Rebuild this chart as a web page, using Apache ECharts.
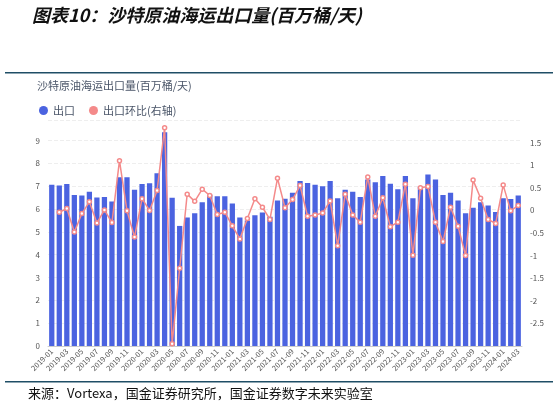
<!DOCTYPE html>
<html><head><meta charset="utf-8">
<script src="https://cdn.jsdelivr.net/npm/echarts@6/dist/echarts.min.js"></script>
<style>html,body{margin:0;padding:0;background:#fff}#c{width:560px;height:408px}</style>
</head><body><div id="c"></div>
<script>
const months = [];
for (let y = 2019; y <= 2024; y++) for (let m = 1; m <= 12; m++) { if (y === 2024 && m > 3) break; months.push(y + '-' + String(m).padStart(2, '0')); }
const exportVals = [7.06,7.03,7.1,6.62,6.59,6.76,6.5,6.53,6.33,7.39,7.39,6.84,
 7.1,7.13,7.57,9.36,6.49,5.26,5.63,5.82,6.3,6.63,6.56,6.56,
 6.24,5.63,5.5,5.73,5.85,5.66,6.37,6.45,6.71,7.23,7.14,7.06,
 7.0,7.23,6.47,6.84,6.76,6.53,7.29,7.17,7.45,7.11,6.87,7.45,
 6.47,6.98,7.51,7.29,6.62,6.71,6.37,5.82,6.06,6.3,6.15,5.87,
 6.47,6.44,6.59];
const momVals = [null,-0.04,0.04,-0.48,-0.07,0.19,-0.28,0.01,-0.27,1.1,-0.01,-0.59,
 0.26,0,0.44,1.83,-2.95,-1.28,0.36,0.2,0.47,0.33,-0.09,-0.04,
 -0.34,-0.63,-0.18,0.26,0.07,-0.2,0.71,0.06,0.24,0.55,-0.13,-0.1,
 -0.06,0.21,-0.78,0.36,-0.1,-0.26,0.74,-0.13,0.28,-0.36,-0.26,0.58,
 -0.99,0.5,0.53,-0.26,-0.69,0.07,-0.35,-1.0,0.67,0.27,-0.2,-0.29,
 0.56,-0.01,0.11];
const chart = echarts.init(document.getElementById('c'));
const F = '"Noto Sans CJK SC","Noto Sans",sans-serif';
chart.setOption({
  animation: false,
  textStyle: {fontFamily: F},
  graphic: [
    {type:'text', left: 32, top: 6, style:{text:'图表10：沙特原油海运出口量(百万桶/天)', font:'italic bold 18px "Noto Sans CJK SC"', fill:'#111'}},
    {type:'rect', shape:{x:5,y:72,width:548,height:1.5}, style:{fill:'#1f4e66'}},
    {type:'rect', shape:{x:5,y:381,width:548,height:1.5}, style:{fill:'#1f4e66'}},
    {type:'text', left: 28, top: 387, style:{text:'来源：Vortexa，国金证券研究所，国金证券数字未来实验室', font:'13px "Noto Sans CJK SC"', fill:'#111'}},
    {type:'text', left: 37, top: 80, style:{text:'沙特原油海运出口量(百万桶/天)', font:'11px "Noto Sans CJK SC"', fill:'#4a5568'}}
  ],
  legend: {left: 34, top: 100, itemWidth: 9, itemHeight: 9, itemGap: 14, icon: 'circle',
    textStyle:{fontSize: 11, color:'#4a5568'},
    data:[{name:'出口'},{name:'出口环比(右轴)', itemStyle:{color:'#f48a8a', borderWidth:0}}]},
  grid: {left: 48, right: 38, top: 120, bottom: 62},
  xAxis: {type:'category', data: months,
    axisLine:{lineStyle:{color:'#ccc'}}, axisTick:{show:false},
    axisLabel:{interval:1, rotate:45, fontSize:7.5, color:'#555', margin:4}},
  yAxis: [
    {type:'value', min:0, max:9.9, interval:1, axisLabel:{fontSize:8, color:'#555', showMaxLabel:false},
      splitLine:{lineStyle:{color:'#eee', type:'dashed'}}},
    {type:'value', min:-3, max:2, interval:0.5, axisLabel:{fontSize:8, color:'#555',
      showMinLabel:false, showMaxLabel:false},
      splitLine:{show:false}}
  ],
  series: [
    {name:'出口', type:'bar', data: exportVals, barWidth:'70%', itemStyle:{color:'#4b63e0'}},
    {name:'出口环比(右轴)', type:'line', yAxisIndex:1, data: momVals, symbol:'circle', symbolSize:4,
      lineStyle:{color:'#f48a8a', width:1.5}, itemStyle:{color:'#fff', borderColor:'#f48a8a', borderWidth:1.5}}
  ]
});
</script></body></html>
